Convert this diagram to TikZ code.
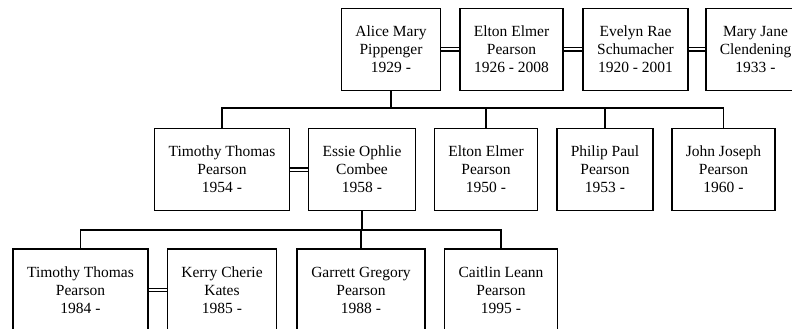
\documentclass[tikz,border=0pt]{standalone}
\usepackage{fontspec}
\setmainfont{Liberation Serif}
\tikzset{
    person/.style = {draw, line width = 1.6pt, align = center, inner xsep = 14pt,
        minimum height = 82pt, font = \fontsize{15.5}{18}\selectfont},
    marriage/.style = {double, double distance = 2pt, line width = 1.2pt},
    link/.style = {line width = 1.5pt}
}
\begin{document}
\begin{tikzpicture}[x = 1pt, y = -1pt]
    \useasboundingbox (0, 0) rectangle (792, 329);
    \clip (0, 0) rectangle (792, 329);

    \node[person] (alice)  at (391, 49.5)   {Alice Mary\\Pippenger\\1929 -};
    \node[person] (elton)  at (511.5, 49.5) {Elton Elmer\\Pearson\\1926 - 2008};
    \node[person] (evelyn) at (635.5, 49.5) {Evelyn Rae\\Schumacher\\1920 - 2001};
    \node[person] (mary)   at (755.5, 49.5) {Mary Jane\\Clendening\\1933 -};

    \node[person] (tim)    at (222, 169.5)  {Timothy Thomas\\Pearson\\1954 -};
    \node[person] (essie)  at (362, 169.5)  {Essie Ophlie\\Combee\\1958 -};
    \node[person] (elton2) at (486, 169.5)  {Elton Elmer\\Pearson\\1950 -};
    \node[person] (philip) at (605, 169.5)  {Philip Paul\\Pearson\\1953 -};
    \node[person] (john)   at (723.5, 169.5) {John Joseph\\Pearson\\1960 -};

    \node[person] (tim2)    at (80.5, 290)  {Timothy Thomas\\Pearson\\1984 -};
    \node[person] (kerry)   at (222, 290)   {Kerry Cherie\\Kates\\1985 -};
    \node[person] (garrett) at (361, 290)   {Garrett Gregory\\Pearson\\1988 -};
    \node[person] (caitlin) at (501, 290)   {Caitlin Leann\\Pearson\\1995 -};

    \coordinate (bus1) at (0, 108);
    \coordinate (bus2) at (0, 230);

    \draw (alice) edge[marriage] (elton);
    \draw (elton) edge[marriage] (evelyn);
    \draw (evelyn) edge[marriage] (mary);
    \draw (tim) edge[marriage] (essie);
    \draw (tim2) edge[marriage] (kerry);

    \draw[link] (alice.south) -- (alice |- bus1);
    \draw[link] (tim.north) -- (tim |- bus1) -- (john |- bus1) -- (john.north);
    \draw[link] (elton2.north) -- (elton2 |- bus1);
    \draw[link] (philip.north) -- (philip |- bus1);

    \draw[link] (essie.south) -- (essie |- bus2);
    \draw[link] (tim2.north) -- (tim2 |- bus2) -- (caitlin |- bus2) -- (caitlin.north);
    \draw[link] (garrett.north) -- (garrett |- bus2);
\end{tikzpicture}
\end{document}
